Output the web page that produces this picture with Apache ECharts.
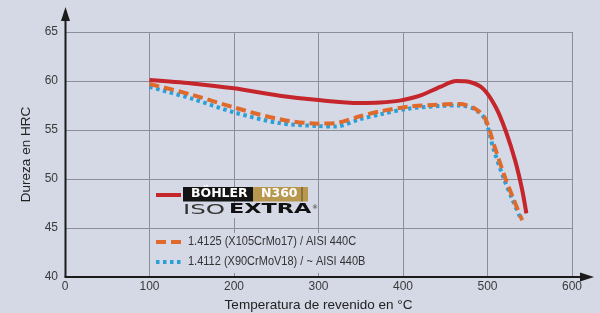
<!DOCTYPE html>
<html><head><meta charset="utf-8">
<script src="https://cdn.jsdelivr.net/npm/echarts@6/dist/echarts.min.js"></script>
<style>html,body{margin:0;padding:0;background:#d5d9e6;}#c{width:600px;height:313px;}</style>
</head><body><div id="c"></div>
<script>
// ---- data ----
const xTicks = [0, 100, 200, 300, 400, 500, 600];
const yTicks = [40, 45, 50, 55, 60, 65];

const n360Temp = [100, 150, 200, 254, 300, 349, 373, 396, 420, 444, 463, 479, 495, 510, 522, 533, 541, 546];
const n360HRC  = [60.1, 59.75, 59.25, 58.5, 58.05, 57.75, 57.8, 58.0, 58.5, 59.4, 60.0, 59.9, 59.2, 57.3, 54.8, 51.8, 48.9, 46.5];

const c440Temp = [100, 150, 200, 254, 300, 320, 349, 373, 408, 444, 467, 485, 497, 508, 521, 531, 541];
const c440HRC  = [59.7, 58.6, 57.3, 56.1, 55.65, 55.7, 56.4, 56.9, 57.4, 57.6, 57.65, 57.2, 56.2, 53.4, 50.1, 47.9, 45.8];

const b440Temp = [100, 150, 200, 254, 300, 320, 349, 373, 408, 444, 467, 485, 497, 507, 519, 529, 539];
const b440HRC  = [59.4, 58.2, 56.8, 55.7, 55.4, 55.35, 56.1, 56.6, 57.2, 57.45, 57.5, 57.1, 56.1, 53.1, 50.1, 48.0, 46.0];

const seriesNames = ['BÖHLER N360 ISOEXTRA', '1.4125 (X105CrMo17) / AISI 440C', '1.4112 (X90CrMoV18) / ~ AISI 440B'];
const xTitle = 'Temperatura de revenido en °C';
const yTitle = 'Dureza en HRC';

// ---- style ----
const FONT = "'Liberation Sans Narrow','Liberation Sans',sans-serif";
const RED = '#c4262b', ORANGE = '#e0692c', BLUE = '#2a9fd8', GRID = '#8b8d97', AXIS = '#1b1b1b', TXT = '#3a3a3a';
const pair = (a, b) => a.map((v, i) => [v, b[i]]);

const chart = echarts.init(document.getElementById('c'), null, {renderer: 'canvas'});
chart.setOption({
  backgroundColor: '#d5d9e6',
  animation: false,
  grid: {left: 65, right: 28, top: 32, bottom: 36, containLabel: false, outerBoundsMode: 'none'},
  xAxis: {
    type: 'value', min: xTicks[0], max: xTicks[xTicks.length - 1], interval: 100,
    axisLine: {show: false}, axisTick: {show: false},
    axisLabel: {color: TXT, fontSize: 12, fontFamily: FONT, margin: 4},
    splitLine: {show: true, lineStyle: {color: GRID, width: 1}},
    name: xTitle, nameLocation: 'middle', nameGap: 21,
    nameTextStyle: {color: '#222', fontSize: 13.5, fontFamily: FONT}
  },
  yAxis: {
    type: 'value', min: yTicks[0], max: yTicks[yTicks.length - 1], interval: 5,
    axisLine: {show: false}, axisTick: {show: false},
    axisLabel: {color: TXT, fontSize: 12, fontFamily: FONT, margin: 7},
    splitLine: {show: true, lineStyle: {color: GRID, width: 1}},
    name: yTitle, nameLocation: 'middle', nameGap: 28, nameRotate: 90,
    nameTextStyle: {color: '#222', fontSize: 13.5, fontFamily: FONT}
  },
  series: [
    {name: seriesNames[2], type: 'line', data: pair(b440Temp, b440HRC), showSymbol: false, smooth: 0.3, z: 3,
     lineStyle: {color: BLUE, width: 4, type: [3.5, 3.5], cap: 'butt'}},
    {name: seriesNames[1], type: 'line', data: pair(c440Temp, c440HRC), showSymbol: false, smooth: 0.3, z: 4,
     lineStyle: {color: ORANGE, width: 4, type: [10, 5], cap: 'butt'}},
    {name: seriesNames[0], type: 'line', data: pair(n360Temp, n360HRC), showSymbol: false, smooth: 0.3, z: 5,
     lineStyle: {color: RED, width: 4}}
  ],
  graphic: [
    // axes with arrows
    {type: 'line', z: 10, shape: {x1: 65.5, y1: 277, x2: 65.5, y2: 16}, style: {stroke: AXIS, lineWidth: 2}},
    {type: 'polygon', z: 10, shape: {points: [[65.5, 7], [61, 21], [70, 21]]}, style: {fill: AXIS}},
    {type: 'line', z: 10, shape: {x1: 64.5, y1: 277, x2: 584, y2: 277}, style: {stroke: AXIS, lineWidth: 2}},
    {type: 'polygon', z: 10, shape: {points: [[594, 277], [580, 272.5], [580, 281.5]]}, style: {fill: AXIS}},
    // legend background (covers grid behind legend text)
    {type: 'rect', z: 6, shape: {x: 153, y: 233, width: 220, height: 40}, style: {fill: '#d5d9e6'}},
    // N360 legend
    {type: 'line', z: 7, shape: {x1: 156, y1: 195, x2: 181, y2: 195}, style: {stroke: RED, lineWidth: 4}},
    {type: 'rect', z: 7, shape: {x: 183, y: 187, width: 70, height: 14.5}, style: {fill: '#141414'}},
    {type: 'rect', z: 7, shape: {x: 253, y: 187, width: 55, height: 14.5}, style: {fill: '#b8984e'}},
    {type: 'line', z: 8, shape: {x1: 302, y1: 187, x2: 302, y2: 201.5}, style: {stroke: '#5a4a2a', lineWidth: 1}},
    {type: 'text', z: 8, left: 191, top: 187.5, style: {text: 'BÖHLER', fill: '#fff', font: "bold 12.5px 'DejaVu Sans'"}},
    {type: 'text', z: 8, left: 261, top: 187.5, style: {text: 'N360', fill: '#fff', font: "bold 12.5px 'DejaVu Sans'"}},
    {type: 'rect', z: 6, shape: {x: 183, y: 203, width: 133, height: 15}, style: {fill: '#d5d9e6'}},
    {type: 'text', z: 8, x: 183, y: 203, scaleX: 1.75, style: {text: 'ISO', fill: '#333', font: "normal 14px 'DejaVu Sans'"}},
    {type: 'text', z: 8, x: 229, y: 202.5, scaleX: 1.6, style: {text: 'EXTRA', fill: '#111', font: "900 14px 'DejaVu Sans'"}},
    {type: 'text', z: 8, x: 312, y: 204, style: {text: '®', fill: '#333', font: "6px 'DejaVu Sans'"}},
    // 440C legend
    {type: 'line', z: 7, shape: {x1: 156, y1: 242, x2: 181, y2: 242}, style: {stroke: ORANGE, lineWidth: 4, lineDash: [10, 5]}},
    {type: 'text', z: 7, x: 188, y: 235, scaleX: 0.88, style: {text: seriesNames[1], fill: '#333', font: "12.5px " + FONT}},
    // 440B legend
    {type: 'line', z: 7, shape: {x1: 156, y1: 262, x2: 181, y2: 262}, style: {stroke: BLUE, lineWidth: 4, lineDash: [3.5, 3.5]}},
    {type: 'text', z: 7, x: 188, y: 255, scaleX: 0.88, style: {text: seriesNames[2], fill: '#333', font: "12.5px " + FONT}}
  ]
});
</script></body></html>
